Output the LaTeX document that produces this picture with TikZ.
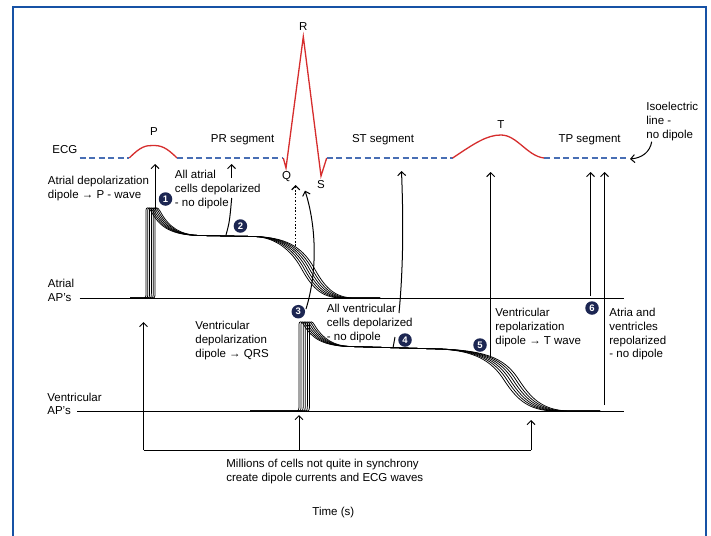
\documentclass[tikz,border=0pt]{standalone}
\usepackage{fontspec}
\setmainfont{Liberation Sans}
\usetikzlibrary{arrows.meta}
\definecolor{ecgred}{RGB}{214,45,45}
\definecolor{isoblue}{RGB}{72,110,180}
\definecolor{badgeblue}{RGB}{28,38,82}
\definecolor{frameblue}{RGB}{22,82,165}
\tikzset{every picture/.style={line width=0.75pt}}
\tikzset{
  lbl/.style={font=\fontsize{11.5}{13.8}\selectfont, inner sep=0pt, align=left},
  badge/.style={circle, fill=badgeblue, text=white, inner sep=0pt, minimum size=13.5pt,
    font=\fontsize{9.5}{9.5}\selectfont\bfseries},
  arr/.style={-{Straight Barb[length=4pt,width=8pt]}, line width=1pt},
  iso/.style={isoblue, dash pattern=on 6pt off 3.5pt, line width=1.3pt},
  wave/.style={ecgred, line width=1.3pt},
  ap/.style={line width=0.75pt},
}

\begin{document}
\begin{tikzpicture}[x=1pt,y=1pt,yscale=-1,xscale=1]
\useasboundingbox (0,0) rectangle (711,535);
\fill[white] (0,0) rectangle (711,535);

%Frame
\draw[frameblue, line width=2.5pt] (13,545) -- (13,7) -- (706,7) -- (706,545);

%ECG trace
\draw[iso] (79.5,158) -- (129.3,158);
\draw[wave] (129.3,158) .. controls (141,146) and (146,145.5) .. (153,145.5) .. controls (161,145.5) and (166,147) .. (177,158);
\draw[iso] (177,158) -- (283.3,158);
\draw[wave] (283.3,158) -- (286,168) -- (303.3,36.7) -- (321,176) -- (326.7,158);
\draw[iso] (326.7,158) -- (452.6,158);
\draw[wave] (452.6,158) .. controls (475,143) and (487,135) .. (501,135) .. controls (517,135) and (527,156) .. (544,158);
\draw[iso] (544,158) -- (628,158);

%Atrial AP's
\draw[ap, line width=1pt] (79.5,298) -- (623.5,298);
\foreach \i in {0,...,5}{
  \pgfmathsetmacro\d{1.8*\i}
  \pgfmathsetmacro\e{2.6*\i}
  \draw[ap] (130,298) -- ({142+\d},298) .. controls ({146+\d},298) .. ({146+\d},292) -- ({146+\d},210)
    .. controls ({146+\d},207) and ({149+\d},207) .. ({151+\d},211)
    .. controls ({160+\d},228) and ({172+\d},235) .. (200,235.5) -- (255,236.5)
    .. controls ({272+\e},237.5) and ({288+\e},246) .. ({300+\e},266)
    .. controls ({311+\e},286) and ({320+\e},298) .. ({342+\e},298) -- (380,298);
}

%Ventricular AP's
\draw[ap, line width=1pt] (77,411) -- (623.5,411);
\foreach \i in {0,...,5}{
  \pgfmathsetmacro\d{2.1*\i}
  \pgfmathsetmacro\e{3*\i}
  \draw[ap] (250,411) -- ({295+\d},411) .. controls ({299+\d},411) .. ({299+\d},403) -- ({299+\d},324)
    .. controls ({299+\d},321) and ({302+\d},321) .. ({304+\d},325)
    .. controls ({312+\d},339) and ({324+\d},346) .. (350,346.5) -- (440,349)
    .. controls ({468+\e},350.5) and ({488+\e},357) .. ({502+\e},377)
    .. controls ({515+\e},397) and ({526+\e},411) .. ({556+\e},411) -- (600,411);
}

%Text nodes
\node[lbl, anchor=west] (ecg) at (52,150) {ECG};
\node[lbl] (P) at (154,132) {P};
\node[lbl] (PRseg) at (242.6,140) {PR segment};
\node[lbl] (R) at (303.3,27) {R};
\node[lbl] (Q) at (286.6,177) {Q};
\node[lbl] (S) at (321,185) {S};
\node[lbl] (STseg) at (383,140) {ST segment};
\node[lbl] (T) at (501,125) {T};
\node[lbl] (TPseg) at (589.6,140) {TP segment};
\node[lbl, anchor=north west] (isoline) at (646,101.7) {Isoelectric\\line -\\no dipole};
\node[lbl, anchor=north west] (atrdep) at (47.6,175.7) {Atrial depolarization\\dipole → P - wave};
\node[lbl, anchor=north west] (allatr) at (174.6,169.7) {All atrial\\cells depolarized\\- no dipole};
\node[lbl, anchor=north west] (atrap) at (47.6,278.7) {Atrial\\AP's};
\node[lbl, anchor=north west] (ventdep) at (195,320.7) {Ventricular\\depolarization\\dipole → QRS};
\node[lbl, anchor=north west] (allvent) at (326.6,303.7) {All ventricular\\cells depolarized\\- no dipole};
\node[lbl, anchor=north west] (ventrep) at (495,307.7) {Ventricular\\repolarization\\dipole → T wave};
\node[lbl, anchor=north west] (allrep) at (609,307.7) {Atria and\\ventricles\\repolarized\\- no dipole};
\node[lbl, anchor=north west] (ventap) at (47,392.3) {Ventricular\\AP's};
\node[lbl, anchor=north west] (millions) at (226,458.7) {Millions of cells not quite in synchrony\\create dipole currents and ECG waves};
\node[lbl] (time) at (333.3,513) {Time (s)};

%Badges
\node[badge] (b1) at (165.5,199) {1};
\node[badge] (b2) at (240.4,226) {2};
\node[badge] (b3) at (298.3,311.7) {3};
\node[badge] (b4) at (405,340) {4};
\node[badge] (b5) at (480,345) {5};
\node[badge] (b6) at (592,308) {6};

%Arrow ends
\coordinate (Pfoot) at (155,210);
\coordinate (Ptip) at (155,164);
\coordinate (PRfoot) at (226,235);
\coordinate (PRtop) at (231.7,198);
\coordinate (PRup) at (231.5,178);
\coordinate (PRtip) at (231.5,164);
\coordinate (Qfoot) at (295.7,246);
\coordinate (Qtip) at (295.7,185);
\coordinate (Sfoot) at (306,309);
\coordinate (Stip) at (305,190.7);
\coordinate (STfoot) at (399,313);
\coordinate (STtip) at (401.5,171);
\coordinate (Vfoot) at (393,348);
\coordinate (Vtop) at (395,337);
\coordinate (Tfoot) at (490.7,358);
\coordinate (Ttip) at (490.7,172);
\coordinate (TPfootA) at (590.5,296);
\coordinate (TPtipA) at (590.5,172);
\coordinate (TPfootB) at (604.5,405);
\coordinate (TPtipB) at (604.5,172);
\coordinate (isofoot) at (651.7,141.7);
\coordinate (isotip) at (630,159);
\coordinate (brL) at (143.5,450);
\coordinate (brM) at (299,450);
\coordinate (brR) at (531,450);

%Connectors
\draw[arr] (Pfoot) -- (Ptip);
\draw[line width=1pt] (PRfoot) .. controls (229.5,222) .. (PRtop);
\draw[arr] (PRup) -- (PRtip);
\draw[arr, dash pattern=on 1.6pt off 1.8pt, line width=1.2pt] (Qfoot) -- (Qtip);
\draw[arr] (Sfoot) .. controls (318,270) and (316,225) .. (Stip);
\draw[arr] (STfoot) .. controls (404,260) and (403,210) .. (STtip);
\draw[line width=1pt] (Vfoot) -- (Vtop);
\draw[arr] (Tfoot) -- (Ttip);
\draw[arr] (TPfootA) -- (TPtipA);
\draw[arr] (TPfootB) -- (TPtipB);
\draw[arr] (isofoot) .. controls (650,152) and (642,158) .. (isotip);
\draw[line width=1pt] (brL) -- (brR);
\draw[arr] (brL) -- ++(0,-128);
\draw[arr] (brM) -- ++(0,-35);
\draw[arr] (brR) -- ++(0,-30);

\end{tikzpicture}
\end{document}
